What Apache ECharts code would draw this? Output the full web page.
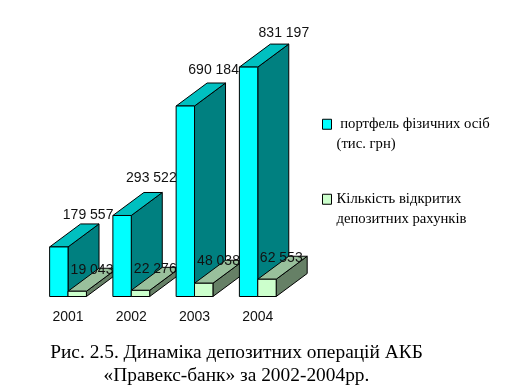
<!DOCTYPE html>
<html><head><meta charset="utf-8">
<style>html,body{margin:0;padding:0;background:#fff}#c{width:507px;height:385px}</style>
<script src="https://cdn.jsdelivr.net/npm/echarts@6/dist/echarts.min.js"></script>
</head><body><div id="c"></div>
<script>
const years = ['2001','2002','2003','2004'];
const portfolio = [179557, 293522, 690184, 831197];
const accounts = [19043, 22276, 48038, 62553];
const portfolioName = ' портфель фізичних осіб\n(тис. грн)';
const accountsName = 'Кількість відкритих\nдепозитних рахунків';
const caption = 'Рис. 2.5. Динаміка депозитних операцій АКБ\n«Правекс-банк» за 2002-2004рр.';

const serif = '"Liberation Serif", serif';
const sans = '"Liberation Sans", sans-serif';
const fmt = v => String(v).replace(/\B(?=(\d{3})+$)/g, ' ');

const BAR_W = 18.4, DEPTH_X = 31, DEPTH_Y = 23;
const palettes = {
  cyan: {front:'#00ffff', top:'#00c0c0', side:'#008080'},
  green:{front:'#ccffcc', top:'#99c09c', side:'#668066'}
};
// label nudges per category: distance from the bar's top-left corner
const cyanNudge = [[38.5,-32],[38.5,-37],[37.5,-36],[44.5,-33.5]];
const greenNudge = [[24,-21],[24,-21],[24,-22],[23.5,-21.5]];

function box(pal, offset, nudge, order) {
  return function (params, api) {
    const i = api.value(0);
    const top = api.coord([i, api.value(1)]);
    const base = api.coord([i, 0]);
    const xL = top[0] + offset, xR = xL + BAR_W, yT = top[1], yB = base[1];
    const z = i * 10 + order;
    const st = c => ({fill:c, stroke:'#000', lineWidth:1, lineJoin:'round'});
    return {type:'group', children:[
      {type:'polygon', z2:z, shape:{points:[[xR,yT],[xR+DEPTH_X,yT-DEPTH_Y],[xR+DEPTH_X,yB-DEPTH_Y],[xR,yB]]}, style:st(pal.side)},
      {type:'polygon', z2:z, shape:{points:[[xL,yT],[xL+DEPTH_X,yT-DEPTH_Y],[xR+DEPTH_X,yT-DEPTH_Y],[xR,yT]]}, style:st(pal.top)},
      {type:'rect', z2:z, shape:{x:xL,y:yT,width:BAR_W,height:yB-yT}, style:st(pal.front)},
      {type:'text', z2:z+1, style:{x:xL+nudge[i][0], y:yT+nudge[i][1], text:fmt(api.value(1)),
        font:'14px '+sans, fill:'#111', align:'center', verticalAlign:'middle'}}
    ]};
  };
}

const chart = echarts.init(document.getElementById('c'), null, {renderer:'canvas'});
chart.setOption({
  animation:false,
  backgroundColor:'#fff',
  title:{
    text:caption, left:236.5, top:341, padding:0, textAlign:'center',
    textStyle:{fontFamily:serif, fontSize:19.4, fontWeight:'normal', color:'#000', lineHeight:23}
  },
  legend:{
    orient:'vertical', left:322, top:95, padding:0, itemWidth:9, itemHeight:10, itemGap:16.5,
    selectedMode:false,
    formatter: name => '\n' + name,
    textStyle:{fontFamily:serif, fontSize:14.7, color:'#000', lineHeight:19.5},
    data:[
      {name:portfolioName, icon:'rect', itemStyle:{color:'#00ffff', borderColor:'#000', borderWidth:1}},
      {name:accountsName, icon:'rect', itemStyle:{color:'#ccffcc', borderColor:'#000', borderWidth:1}}
    ]
  },
  grid:{left:36.4, width:253, top:20.5, height:276},
  xAxis:{type:'category', data:years, axisLine:{show:false}, axisTick:{show:false},
    axisLabel:{margin:14, fontFamily:sans, fontSize:14, color:'#111'}},
  yAxis:{type:'value', min:0, max:1000000, show:false, splitLine:{show:false}},
  series:[
    {name:portfolioName, type:'custom', coordinateSystem:'cartesian2d', clip:false, silent:true,
     itemStyle:{color:'#00ffff'}, encode:{x:0,y:1},
     data:portfolio.map((v,i)=>[i,v]), renderItem:box(palettes.cyan,-BAR_W,cyanNudge,0)},
    {name:accountsName, type:'custom', coordinateSystem:'cartesian2d', clip:false, silent:true,
     itemStyle:{color:'#ccffcc'}, encode:{x:0,y:1},
     data:accounts.map((v,i)=>[i,v]), renderItem:box(palettes.green,0,greenNudge,2)}
  ]
});
</script></body></html>
